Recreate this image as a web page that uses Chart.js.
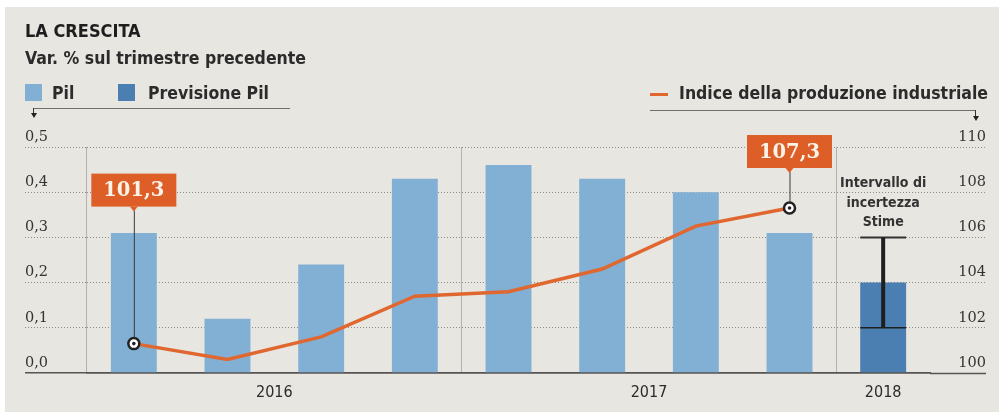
<!DOCTYPE html>
<html>
<head>
  <meta charset="utf-8">
  <title>La crescita</title>
  <script src="https://cdn.jsdelivr.net/npm/chart.js"></script>
  <style>
    body { margin: 0; background: #fff; width: 999px; height: 412px; overflow: hidden; position: relative; }
    #bg { position: absolute; left: 5px; top: 7px; width: 994px; height: 405px; background: #e8e6e1; }
    #myChart { position: absolute; left: 0; top: 0; }
    .txt { position: absolute; font-family: "DejaVu Sans Condensed", "DejaVu Sans", sans-serif; color: #2b2b2b; white-space: nowrap; line-height: 1; font-weight: bold; }
    .sq { position: absolute; width: 17px; height: 17px; }
    .rule { position: absolute; height: 1px; background: #6f6f6f; }
    .stem { position: absolute; width: 1px; background: #333; }
    .tip { position: absolute; width: 0; height: 0; border-left: 3px solid transparent; border-right: 3px solid transparent; border-top: 5px solid #222; }
  </style>
</head>
<body>
  <div id="bg"></div>
  <canvas id="myChart" width="999" height="412"></canvas>

  <div class="txt" style="left:25px; top:22px; font-size:18px; color:#1e1e1e;">LA CRESCITA</div>
  <div class="txt" style="left:25px; top:50px; font-size:17.5px;">Var. % sul trimestre precedente</div>

  <div class="sq" style="left:25px; top:84px; background:#82afd4;"></div>
  <div class="txt" style="left:52px; top:85px; font-size:17.5px;">Pil</div>
  <div class="sq" style="left:118px; top:84px; background:#4b7fb1;"></div>
  <div class="txt" style="left:148px; top:85px; font-size:17.5px;">Previsione Pil</div>

  <div style="position:absolute; left:650px; top:93px; width:18px; height:3px; background:#e0672f;"></div>
  <div class="txt" style="right:11px; top:85px; font-size:17.5px;">Indice della produzione industriale</div>

  <!-- guide rules with arrows pointing to the axes -->
  <div class="rule" style="left:33px; top:108px; width:257px;"></div>
  <div class="stem" style="left:33px; top:108px; height:6px;"></div>
  <div class="tip" style="left:31px; top:113px;"></div>
  <div class="rule" style="left:650px; top:110px; width:326px;"></div>
  <div class="stem" style="left:975px; top:110px; height:7px;"></div>
  <div class="tip" style="left:973px; top:116px;"></div>

  <script>
    // Quarters shown on the chart (8 quarters + 2018 forecast)
    var quarters = ["I 2016", "II 2016", "III 2016", "IV 2016", "I 2017", "II 2017", "III 2017", "IV 2017", "2018"];

    // Pil, var. % sul trimestre precedente
    var pil = [0.31, 0.12, 0.24, 0.43, 0.46, 0.43, 0.40, 0.31, null];
    var previsionePil = [null, null, null, null, null, null, null, null, 0.20];

    // Intervallo di incertezza della stima 2018
    var stimaMin = [null, null, null, null, null, null, null, null, 0.10];
    var stimaMax = [null, null, null, null, null, null, null, null, 0.30];

    // Indice della produzione industriale (asse destro)
    var produzione = [101.3, 100.6, 101.6, 103.4, 103.6, 104.6, 106.5, 107.3, null];

    // Points with a value label
    var labelledPoints = [0, 7];

    // Year labels under the axis, at category positions
    var yearLabels = ["2016", "2017", "2018"];
    var yearPositions = [2, 6, 8.5];

    // Group separators (category boundaries)
    var separators = [0, 4, 8, 9];

    var leftTicks = [0, 0.1, 0.2, 0.3, 0.4, 0.5];
    var rightTicks = [100, 102, 104, 106, 108, 110];

    var uncertaintyText = ["Intervallo di", "incertezza", "Stime"];

    function comma(v, d) {
      return v.toFixed(d).replace(".", ",");
    }

    // Draws value boxes, leader lines, the error bar and its caption
    var annotations = {
      id: "annotations",
      afterDatasetsDraw: function (chart) {
        var ctx = chart.ctx;
        var y = chart.scales.y;
        var lineMeta = chart.getDatasetMeta(2);
        var barMeta = chart.getDatasetMeta(1);

        // error bar on the forecast
        for (var i = 0; i < stimaMax.length; i++) {
          if (stimaMax[i] === null) continue;
          var bar = barMeta.data[i];
          var x = bar.x;
          var w = bar.width;
          var yTop = y.getPixelForValue(stimaMax[i]);
          var yBot = y.getPixelForValue(stimaMin[i]);
          ctx.save();
          ctx.strokeStyle = "#1f1f1f";
          ctx.lineWidth = 1.5;
          ctx.beginPath();
          ctx.moveTo(x - w / 2, yBot);
          ctx.lineTo(x + w / 2, yBot);
          ctx.stroke();
          ctx.lineWidth = 2;
          ctx.strokeStyle = "#333";
          ctx.beginPath();
          ctx.moveTo(x - w / 2, yTop);
          ctx.lineTo(x + w / 2, yTop);
          ctx.stroke();
          ctx.lineWidth = 4;
          ctx.strokeStyle = "#1f1f1f";
          ctx.beginPath();
          ctx.moveTo(x, yTop);
          ctx.lineTo(x, yBot);
          ctx.stroke();

          ctx.fillStyle = "#333";
          ctx.font = "bold 14px 'DejaVu Sans Condensed', 'DejaVu Sans', sans-serif";
          ctx.textAlign = "center";
          ctx.textBaseline = "middle";
          for (var k = 0; k < uncertaintyText.length; k++) {
            ctx.fillText(uncertaintyText[k], x, yTop - 15 - (uncertaintyText.length - 1 - k) * 19.5);
          }
          ctx.restore();
        }

        // value boxes
        var lift = [137, 40];
        labelledPoints.forEach(function (idx, n) {
          var pt = lineMeta.data[idx];
          var px = pt.x, py = pt.y;
          var bw = 85, bh = 33;
          var bottom = py - lift[n];
          ctx.save();
          ctx.strokeStyle = "#3a3a3a";
          ctx.lineWidth = 1;
          ctx.beginPath();
          ctx.moveTo(px + 0.5, bottom + 4);
          ctx.lineTo(px + 0.5, py - 6);
          ctx.stroke();
          ctx.fillStyle = "#dd5f27";
          ctx.fillRect(px - bw / 2, bottom - bh, bw, bh);
          ctx.beginPath();
          ctx.moveTo(px - 4, bottom);
          ctx.lineTo(px + 4, bottom);
          ctx.lineTo(px, bottom + 5);
          ctx.closePath();
          ctx.fill();
          ctx.fillStyle = "#fbf3ea";
          ctx.font = "bold 19.5px 'DejaVu Serif', serif";
          ctx.textAlign = "center";
          ctx.textBaseline = "middle";
          ctx.fillText(comma(produzione[idx], 1), px, bottom - bh / 2 + 1);
          // marker centre dot
          ctx.fillStyle = "#222";
          ctx.beginPath();
          ctx.arc(px, py, 1.8, 0, Math.PI * 2);
          ctx.fill();
          ctx.restore();
        });
      }
    };

    function drawChart() {
      var ctx = document.getElementById("myChart").getContext("2d");

      new Chart(ctx, {
        data: {
          labels: quarters,
          datasets: [
            {
              type: "bar",
              label: "Pil",
              data: pil,
              backgroundColor: "#82afd4",
              yAxisID: "y",
              xAxisID: "x",
              grouped: false,
              categoryPercentage: 1,
              barPercentage: 0.49,
              order: 2
            },
            {
              type: "bar",
              label: "Previsione Pil",
              data: previsionePil,
              backgroundColor: "#4b7fb1",
              yAxisID: "y",
              xAxisID: "x",
              grouped: false,
              categoryPercentage: 1,
              barPercentage: 0.49,
              order: 2
            },
            {
              type: "line",
              label: "Indice della produzione industriale",
              data: produzione,
              borderColor: "#e0672f",
              borderWidth: 3.5,
              tension: 0,
              yAxisID: "y1",
              xAxisID: "x",
              pointRadius: function (c) { return labelledPoints.indexOf(c.dataIndex) >= 0 ? 5.5 : 0; },
              pointBackgroundColor: "#fff",
              pointBorderColor: "#222",
              pointBorderWidth: 2.5,
              order: 0
            }
          ]
        },
        options: {
          responsive: false,
          animation: false,
          layout: { padding: { left: 25, right: 13, top: 147, bottom: 0 } },
          plugins: {
            legend: { display: false },
            tooltip: { enabled: false }
          },
          scales: {
            x: {
              type: "category",
              offset: true,
              weight: 0,
              grid: {
                offset: true,
                drawTicks: false,
                lineWidth: 1,
                color: function (c) { return separators.indexOf(c.index) >= 0 ? "#b3b1ad" : "rgba(0,0,0,0)"; }
              },
              border: { display: false },
              ticks: { display: false },
              afterFit: function (s) { s.height = 0; }
            },
            xYear: {
              type: "linear",
              position: "bottom",
              min: 0,
              max: quarters.length,
              weight: 1,
              z: 1,
              afterBuildTicks: function (s) {
                s.ticks = yearPositions.map(function (v) { return { value: v }; });
              },
              grid: { display: false },
              border: { display: true, color: "#555", width: 1.5 },
              ticks: {
                autoSkip: false,
                maxRotation: 0,
                padding: 2,
                color: "#2b2b2b",
                font: { family: "'DejaVu Sans Condensed', 'DejaVu Sans', sans-serif", size: 16 },
                callback: function (v, i) { return yearLabels[i]; }
              },
              afterFit: function (s) { s.height = 39; }
            },
            y: {
              position: "left",
              min: 0,
              max: 0.5,
              afterBuildTicks: function (s) {
                s.ticks = leftTicks.map(function (v) { return { value: v }; });
              },
              grid: {
                color: function (c) { return c.tick && c.tick.value === 0 ? "#555" : "#8d8b87"; },
                tickColor: function (c) { return c.tick && c.tick.value === 0 ? "#555" : "#8d8b87"; },
                lineWidth: function (c) { return c.tick && c.tick.value === 0 ? 1.5 : 1; },
                tickWidth: function (c) { return c.tick && c.tick.value === 0 ? 1.5 : 1; },
                tickLength: 62,
                tickBorderDash: function (c) { return c.tick && c.tick.value === 0 ? [] : [1, 2]; }
              },
              border: {
                display: false,
                dash: function (c) { return c.tick && c.tick.value === 0 ? [] : [1, 2]; }
              },
              ticks: {
                crossAlign: "far",
                labelOffset: -10,
                padding: 0,
                color: "#333",
                font: { family: "'DejaVu Serif', serif", size: 14.5 },
                callback: function (v) { return comma(v, 1); }
              },
              afterFit: function (s) { s.width = 62; }
            },
            y1: {
              position: "right",
              min: 100,
              max: 110,
              afterBuildTicks: function (s) {
                s.ticks = rightTicks.map(function (v) { return { value: v }; });
              },
              grid: {
                drawOnChartArea: false,
                tickColor: function (c) { return c.tick && c.tick.value === 100 ? "#555" : "#8d8b87"; },
                tickWidth: function (c) { return c.tick && c.tick.value === 100 ? 1.5 : 1; },
                tickLength: 56,
                tickBorderDash: function (c) { return c.tick && c.tick.value === 100 ? [] : [1, 2]; }
              },
              border: { display: false },
              ticks: {
                crossAlign: "far",
                labelOffset: -10,
                padding: 0,
                color: "#333",
                font: { family: "'DejaVu Serif', serif", size: 14.5 },
                callback: function (v) { return String(v); }
              },
              afterFit: function (s) { s.width = 56; }
            }
          }
        },
        plugins: [annotations]
      });
    }

    drawChart();
  </script>
</body>
</html>
